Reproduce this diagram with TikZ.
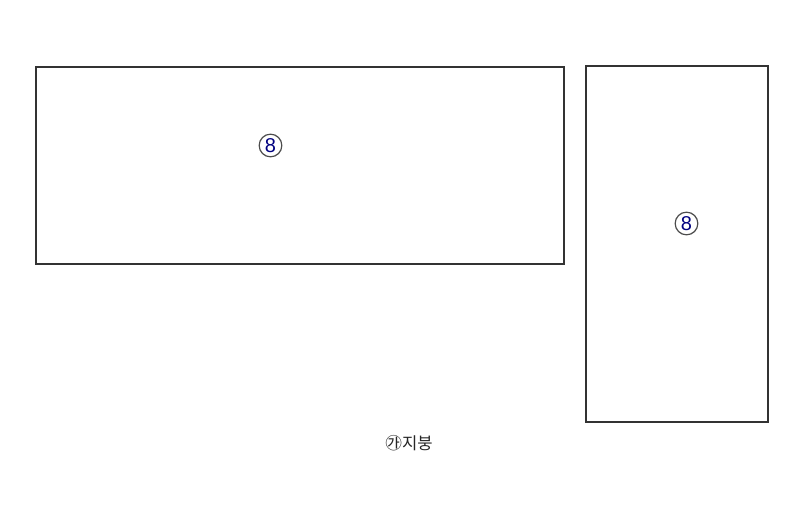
\documentclass[tikz,border=0pt]{standalone}
\usepackage{fontspec}
\setmainfont{Liberation Sans}
\newfontfamily\kr{Noto Sans CJK KR}
\begin{document}
\begin{tikzpicture}[x=0.75pt,y=-0.75pt,
  panel/.style={draw=black!80,line width=1.5pt},
  mark8/.style={circle,draw=black!70,line width=0.9pt,minimum size=17pt,inner sep=0pt,text=blue!50!black,font=\fontsize{15}{15}\selectfont},
  caption/.style={font=\kr\fontsize{12.5}{12.5}\selectfont,text=black!85}]
\useasboundingbox[fill=white] (0,0) rectangle (800,521);
\node[panel,minimum width=528*0.75pt,minimum height=197*0.75pt,inner sep=0pt,anchor=north west] (left) at (35,66) {};
\node[panel,minimum width=182*0.75pt,minimum height=356*0.75pt,inner sep=0pt,anchor=north west] (right) at (585,65) {};
\node[mark8] (m1) at (270.5,145.5) {8};
\node[mark8] (m2) at (686.5,223.5) {8};
\node[caption] (cap) at (409,443) {㉮지붕};
\end{tikzpicture}
\end{document}
